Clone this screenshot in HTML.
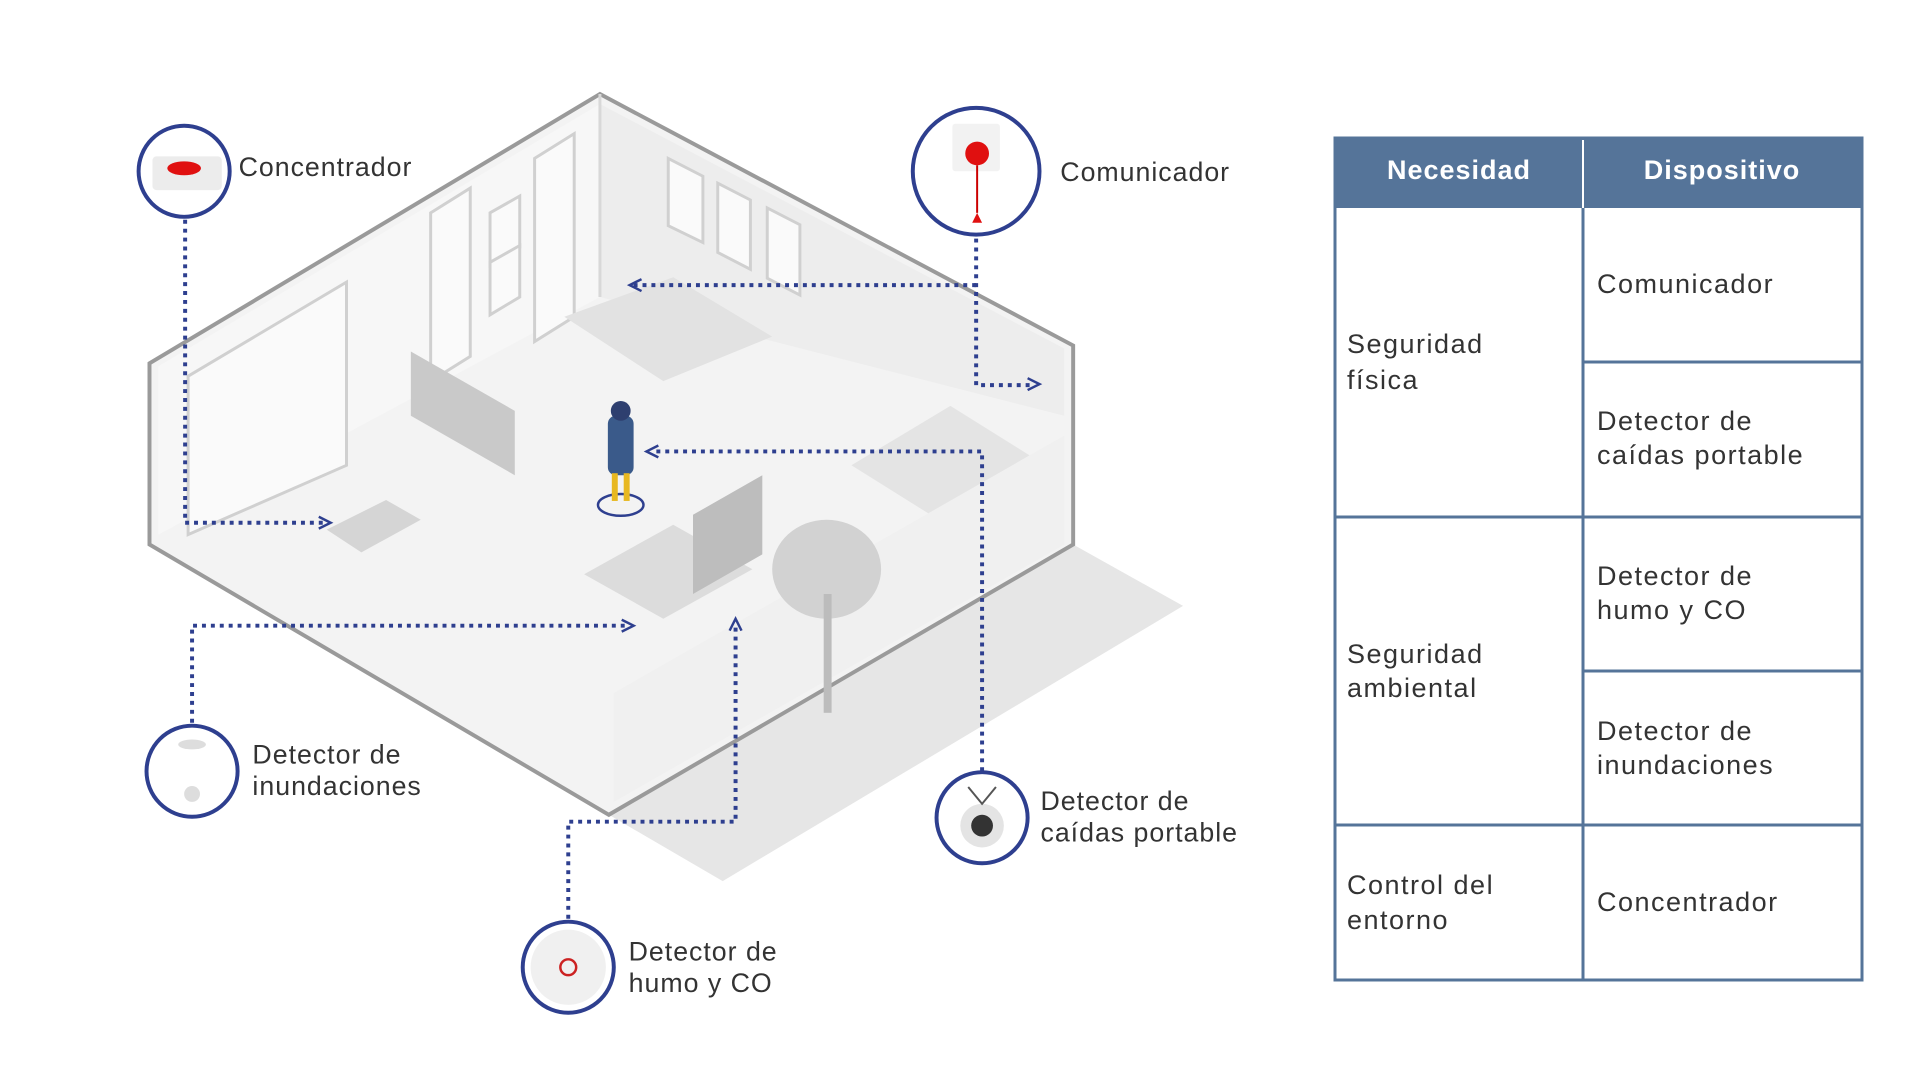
<!DOCTYPE html>
<html><head><meta charset="utf-8"><style>
html,body{margin:0;padding:0;background:#fff;}
svg{display:block}
text{font-family:"Liberation Sans",sans-serif;}
</style></head><body>
<svg width="1920" height="1080" viewBox="0 0 1920 1080" xmlns="http://www.w3.org/2000/svg">
<g transform="scale(0.99)">
<!-- ground -->
<polygon points="615,823 1084,550 1195,612 730,890" fill="#e6e6e6"/>
<!-- house floor -->
<polygon points="151,367 606,95 1084,349 1084,550 615,823 151,550" fill="#f3f3f3" stroke="#9a9a9a" stroke-width="4"/>
<polygon points="160,370 606,105 606,300 160,540" fill="#f7f7f7"/>
<polygon points="606,105 1075,352 1075,420 606,300" fill="#ededed"/>
<line x1="606" y1="95" x2="606" y2="300" stroke="#d8d8d8" stroke-width="3"/>
<g fill="#fafafa" stroke="#d0d0d0" stroke-width="3">
<polygon points="190,380 350,285 350,470 190,540"/>
<polygon points="435,215 475,190 475,360 435,385"/>
<polygon points="540,160 580,135 580,320 540,345"/>
<polygon points="495,215 525,198 525,250 495,268"/>
<polygon points="495,265 525,248 525,300 495,318"/>
<polygon points="675,160 710,178 710,245 675,228"/>
<polygon points="725,185 758,202 758,272 725,255"/>
<polygon points="775,210 808,227 808,298 775,281"/>
</g>
<polygon points="415,355 520,415 520,480 415,420" fill="#c9c9c9"/>
<polygon points="570,320 680,280 780,340 670,385" fill="#e2e2e2"/>
<polygon points="330,535 390,505 425,525 365,558" fill="#d5d5d5"/>
<polygon points="590,580 680,530 760,575 670,625" fill="#dcdcdc"/>
<polygon points="700,520 770,480 770,560 700,600" fill="#bdbdbd"/>
<polygon points="860,470 960,410 1040,460 940,520" fill="#e4e4e4"/>
<polygon points="620,700 1075,440 1075,550 620,810" fill="#f0f0f0"/>
<ellipse cx="835" cy="575" rx="55" ry="50" fill="#d2d2d2"/>
<rect x="832" y="600" width="8" height="120" fill="#bcbcbc"/>
<ellipse cx="627" cy="510" rx="23" ry="11" fill="none" stroke="#2e3f8f" stroke-width="2.5"/>
<rect x="614" y="420" width="26" height="60" rx="8" fill="#3a5a8a"/>
<circle cx="627" cy="415" r="10" fill="#2e3f6f"/>
<rect x="618" y="478" width="6" height="28" fill="#e8b820"/>
<rect x="630" y="478" width="6" height="28" fill="#e8b820"/>
<g fill="none" stroke="#2e3f8f" stroke-width="4" stroke-dasharray="4,5">
<path d="M187,222 V528 H330"/>
<path d="M986,241 V389 H1045"/>
<path d="M986,288 H640"/>
<path d="M992,779 V456 H658"/>
<path d="M194,730 V632 H636"/>
<path d="M574,928 V830 H743 V630"/>
</g>
<g fill="none" stroke="#2e3f8f" stroke-width="2.5">
<path d="M322,522 L334,528 L322,534"/>
<path d="M1038,382 L1050,388 L1038,394"/>
<path d="M648,282 L636,288 L648,294"/>
<path d="M665,450 L653,456 L665,462"/>
<path d="M628,626 L640,632 L628,638"/>
<path d="M737,637 L743,625 L749,637"/>
</g>
<g fill="#fff" stroke="#2e3f8f" stroke-width="4">
<circle cx="186" cy="173" r="46"/>
<circle cx="986" cy="173" r="64"/>
<circle cx="194" cy="779" r="46"/>
<circle cx="992" cy="826" r="46"/>
<circle cx="574" cy="977" r="46"/>
</g>
<rect x="154" y="158" width="70" height="34" rx="4" fill="#ececec"/>
<ellipse cx="186" cy="170" rx="17" ry="7" fill="#e01010"/>
<rect x="962" y="125" width="48" height="48" rx="3" fill="#f2f2f2"/>
<circle cx="987" cy="155" r="12" fill="#e01010"/>
<line x1="987" y1="167" x2="987" y2="215" stroke="#c00" stroke-width="2"/>
<polygon points="987,215 982,225 992,225" fill="#e01010"/>
<circle cx="992" cy="834" r="22" fill="#e4e4e4"/>
<circle cx="992" cy="834" r="11" fill="#333"/>
<path d="M978,795 L992,812 L1006,795" fill="none" stroke="#555" stroke-width="2"/>
<circle cx="574" cy="977" r="38" fill="#f0f0f0"/>
<circle cx="574" cy="977" r="8" fill="none" stroke="#c22" stroke-width="2.5"/>
<ellipse cx="194" cy="752" rx="14" ry="5" fill="#ddd"/>
<circle cx="194" cy="802" r="8" fill="#ddd"/>
<g font-size="27" fill="#333" letter-spacing="1">
<text x="241" y="178">Concentrador</text>
<text x="1071" y="183">Comunicador</text>
<text x="255" y="771">Detector de</text>
<text x="255" y="803">inundaciones</text>
<text x="1051" y="818">Detector de</text>
<text x="1051" y="850">caídas portable</text>
<text x="635" y="970">Detector de</text>
<text x="635" y="1002">humo y CO</text>
</g>
</g>
<!-- table -->
<rect x="1335" y="138" width="527" height="70" fill="#557499"/>
<rect x="1335" y="138" width="527" height="842" fill="none" stroke="#557499" stroke-width="3"/>
<line x1="1583" y1="138" x2="1583" y2="980" stroke="#557499" stroke-width="3"/>
<line x1="1583" y1="140" x2="1583" y2="208" stroke="#fff" stroke-width="2"/>
<g stroke="#557499" stroke-width="3">
<line x1="1583" y1="362" x2="1862" y2="362"/>
<line x1="1335" y1="517" x2="1862" y2="517"/>
<line x1="1583" y1="671" x2="1862" y2="671"/>
<line x1="1335" y1="825" x2="1862" y2="825"/>
</g>
<g font-size="27" font-weight="bold" fill="#fff" text-anchor="middle" letter-spacing="1">
<text x="1459" y="179">Necesidad</text>
<text x="1722" y="179">Dispositivo</text>
</g>
<g font-size="27" fill="#333" letter-spacing="1.5">
<text x="1347" y="353">Seguridad</text>
<text x="1347" y="389">física</text>
<text x="1347" y="663">Seguridad</text>
<text x="1347" y="697">ambiental</text>
<text x="1347" y="894">Control del</text>
<text x="1347" y="929">entorno</text>
<text x="1597" y="293">Comunicador</text>
<text x="1597" y="430">Detector de</text>
<text x="1597" y="464">caídas portable</text>
<text x="1597" y="585">Detector de</text>
<text x="1597" y="619">humo y CO</text>
<text x="1597" y="740">Detector de</text>
<text x="1597" y="774">inundaciones</text>
<text x="1597" y="911">Concentrador</text>
</g>
</svg>
</body></html>
